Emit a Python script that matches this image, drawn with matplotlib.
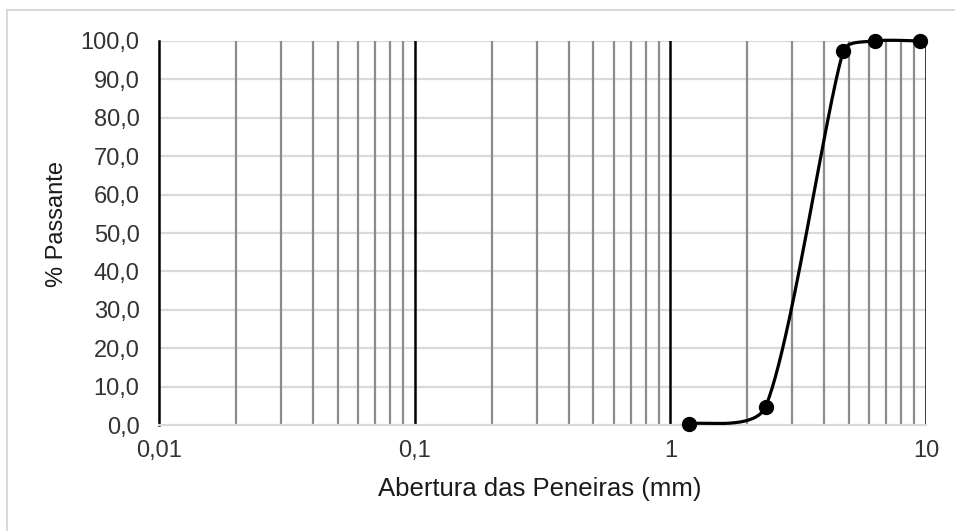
import numpy as np
import matplotlib.pyplot as plt
from matplotlib.ticker import FixedLocator, FuncFormatter
from matplotlib.lines import Line2D

# ---- Donnees ---- #
abertura = [1.18, 2.36, 4.75, 6.3, 9.5]
passante = [0.3, 4.8, 97.4, 100.0, 100.0]
x_ticks = [0.01, 0.1, 1, 10]
x_labels = ["0,01", "0,1", "1", "10"]
y_ticks = [0, 10, 20, 30, 40, 50, 60, 70, 80, 90, 100]


def courbe_lisse(xs, ys, sx=255.7, sy=3.84, n=50):
    """Courbe lissee facon Excel: Catmull-Rom (1/6) avec controles limites a 1/3 du segment."""
    px = np.log10(np.array(xs, dtype=float)) * sx
    py = np.array(ys, dtype=float) * sy
    P = np.column_stack([px, py])
    m = len(P)
    avant = np.zeros_like(P)
    apres = np.zeros_like(P)
    for i in range(m):
        p0 = P[i - 1] if i > 0 else P[i]
        p2 = P[i + 1] if i < m - 1 else P[i]
        v = (p2 - p0) / 6
        lv = np.hypot(*v)
        if lv == 0:
            continue
        d01 = np.hypot(*(P[i] - p0))
        d12 = np.hypot(*(p2 - P[i]))
        avant[i] = P[i] - v * min(1, d01 / 3 / lv)
        apres[i] = P[i] + v * min(1, d12 / 3 / lv)
    segs = []
    u = np.linspace(0, 1, n)[:, None]
    for i in range(m - 1):
        a, b, c, d = P[i], apres[i], avant[i + 1], P[i + 1]
        segs.append((1 - u) ** 3 * a + 3 * (1 - u) ** 2 * u * b + 3 * (1 - u) * u ** 2 * c + u ** 3 * d)
    seg = np.vstack(segs)
    return 10 ** (seg[:, 0] / sx), seg[:, 1] / sy


plt.rcParams['font.family'] = ['Liberation Sans', 'DejaVu Sans']

fig = plt.figure(figsize=(9.55, 5.31), dpi=100)
ax = fig.add_axes([0.1665, 0.1996, 0.8031, 0.7232])

ax.set_xscale('log')
ax.set_xlim(0.01, 10)
ax.set_ylim(0, 100)

# grille verticale
for dec in [0.01, 0.1, 1]:
    for k in range(2, 10):
        ax.axvline(dec * k, color='#8c8c8c', lw=1.6, zorder=1)
for v in [0.1, 1, 10]:
    ax.axvline(v, color='black', lw=1.8, zorder=2)
# grille horizontale
for v in y_ticks[1:]:
    ax.axhline(v, color='#d9d9d9', lw=1.6, zorder=0)

xs, ys = courbe_lisse(abertura, passante)
ax.plot(xs, ys, color='black', lw=2.3, zorder=4, clip_on=False)
ax.plot(abertura, passante, 'o', color='black', ms=10, zorder=5, clip_on=False)

ax.xaxis.set_major_locator(FixedLocator(x_ticks))
ax.xaxis.set_minor_locator(FixedLocator([]))
ax.set_xticklabels(x_labels)
ax.set_yticks(y_ticks)
ax.yaxis.set_major_formatter(FuncFormatter(lambda v, p: f"{v:.1f}".replace('.', ',')))
ax.tick_params(length=0, labelsize=17, colors='#333333')
ax.tick_params(axis='y', pad=14)
ax.tick_params(axis='x', pad=11)

for s in ['top', 'right']:
    ax.spines[s].set_visible(False)
ax.spines['left'].set_color('black')
ax.spines['left'].set_linewidth(1.8)
ax.spines['bottom'].set_color('#d9d9d9')
ax.spines['bottom'].set_linewidth(1.6)

ax.set_xlabel("Abertura das Peneiras (mm)", fontsize=18.5, color='#1a1a1a')
ax.set_ylabel("% Passante", fontsize=17, color='#1a1a1a')
ax.xaxis.set_label_coords(0.496, -0.135)
ax.xaxis.label.set_va('top')
ax.yaxis.set_label_coords(-0.133, 0.523)
ax.yaxis.label.set_va('center')

# bordure du graphique
fig.add_artist(Line2D([7 / 955, 1], [1 - 10 / 531, 1 - 10 / 531], color='#d9d9d9', lw=1.5))
fig.add_artist(Line2D([7 / 955, 7 / 955], [0, 1 - 10 / 531], color='#d9d9d9', lw=1.5))

fig.savefig("out.png", dpi=100)
